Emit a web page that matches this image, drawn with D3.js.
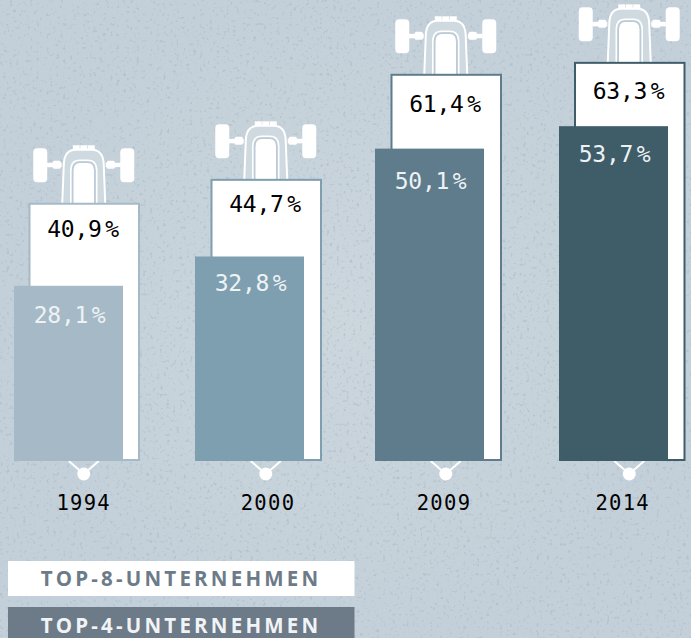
<!DOCTYPE html>
<html>
<head>
<meta charset="utf-8">
<script src="https://cdn.jsdelivr.net/npm/d3@7"></script>
<style>
html, body { margin: 0; padding: 0; background: #c6d1da; overflow: hidden; }
svg { display: block; }
.val { font-family: "DejaVu Sans Mono", monospace; font-size: 23px; letter-spacing: -0.2px; }
.year { font-family: "DejaVu Sans Mono", monospace; font-size: 20.5px; letter-spacing: 1.3px; fill: #000; }
.leg { font-family: "Open Sans", sans-serif; font-weight: 700; font-size: 20.5px; letter-spacing: 3.2px; }
</style>
</head>
<body>
<div id="chart"></div>
<script>
// data
const YEARS = ["1994", "2000", "2009", "2014"];
const TOP8 = [40.9, 44.7, 61.4, 63.3];
const TOP4 = [28.1, 32.8, 50.1, 53.7];
const LEGEND = ["TOP-8-UNTERNEHMEN", "TOP-4-UNTERNEHMEN"];
const COLORS = ["#a5bac6", "#7e9fb0", "#5f7c8c", "#3f5d68"];

// setting up constants
const FRAME_WIDTH = 691;
const FRAME_HEIGHT = 638;
const BASELINE = 461;
const BAR_WIDTH = 109.5;
const WHITE = "#fff";

const FRAME = d3.select("#chart")
    .append("svg")
        .attr("width", FRAME_WIDTH)
        .attr("height", FRAME_HEIGHT);

// speckled paper background
const defs = FRAME.append("defs");
const grad = defs.append("radialGradient").attr("id", "paper");
grad.append("stop").attr("offset", "0%").attr("stop-color", "#cbd6dd");
grad.append("stop").attr("offset", "100%").attr("stop-color", "#c4d0d9");
const speck = defs.append("filter").attr("id", "speck")
    .attr("x", 0).attr("y", 0).attr("width", "100%").attr("height", "100%")
    .attr("color-interpolation-filters", "sRGB");
speck.append("feTurbulence")
    .attr("type", "fractalNoise")
    .attr("baseFrequency", 0.3)
    .attr("numOctaves", 3)
    .attr("seed", 4);
speck.append("feColorMatrix")
    .attr("type", "matrix")
    .attr("values", "0 0 0 0 0.58  0 0 0 0 0.65  0 0 0 0 0.71  6 0 0 0 -3.6");

FRAME.append("rect").attr("width", FRAME_WIDTH).attr("height", FRAME_HEIGHT).attr("fill", "url(#paper)");
FRAME.append("rect").attr("width", FRAME_WIDTH).attr("height", FRAME_HEIGHT)
    .attr("filter", "url(#speck)").attr("opacity", 0.3);

// the bars are not evenly spaced in the source, so ordinal ranges instead of a band
const x8 = d3.scaleOrdinal().domain(YEARS).range([29.5, 211.5, 391.5, 575]);
const x4 = d3.scaleOrdinal().domain(YEARS).range([14, 195, 375, 559]);
const xYear = d3.scaleOrdinal().domain(YEARS).range([83.7, 268, 444, 622.7]);

// the two series sit on very slightly different slopes in the source
const y8 = d3.scaleLinear().domain([0, 70]).range([BASELINE, BASELINE - 70 * 6.29]);
const y4 = d3.scaleLinear().domain([0, 70]).range([BASELINE, BASELINE - 70 * 6.235]);

// label baseline below the top of each bar
const dy8 = d3.scaleOrdinal().domain(YEARS).range([33.5, 32.5, 37, 36]);
const dy4 = d3.scaleOrdinal().domain(YEARS).range([37, 35, 40, 36]);

const rows = YEARS.map((year, i) => ({ year, top8: TOP8[i], top4: TOP4[i], color: COLORS[i] }));
const fmt = v => String(v).replace(".", ",");

const groups = FRAME.selectAll(".year-group")
    .data(rows)
    .enter()
    .append("g")
    .attr("class", "year-group");

// tractor on top of each white bar, drawn around the bar centre
const tractor = groups.append("g")
    .attr("transform", d => "translate(" + (x8(d.year) + BAR_WIDTH / 2 - 0.5) + "," + y8(d.top8) + ")");

[-1, 1].forEach(side => {
    tractor.append("rect").attr("x", side < 0 ? -50.5 : 36.5).attr("y", -55.5)
        .attr("width", 14).attr("height", 34).attr("rx", 4).attr("fill", WHITE);
    tractor.append("rect").attr("x", side < 0 ? -37 : 22).attr("y", -41)
        .attr("width", 15).attr("height", 4.5).attr("fill", WHITE);
    tractor.append("rect").attr("x", side < 0 ? -31 : 23).attr("y", -43)
        .attr("width", 8).attr("height", 8).attr("rx", 1.5).attr("fill", WHITE);
});
[-11, -3.5, 4].forEach(dx => {
    tractor.append("rect").attr("x", dx).attr("y", -58.5)
        .attr("width", 7).attr("height", 6).attr("fill", WHITE);
});
tractor.append("path")
    .attr("d", "M-21.5,0 L-20,-38 Q-20,-54 -8,-54 L8,-54 Q20,-54 20,-38 L21.5,0")
    .attr("fill", "#cfd9e0")
    .attr("stroke", WHITE)
    .attr("stroke-width", 2);
tractor.append("path")
    .attr("d", "M-11,0 L-11,-33 Q-11,-41.5 -4,-41.5 L4,-41.5 Q11,-41.5 11,-33 L11,0")
    .attr("fill", WHITE)
    .attr("stroke", "#bccbd5")
    .attr("stroke-width", 1.5);
tractor.append("path")
    .attr("d", "M-13,0 L-13,-33 Q-13,-43.5 -4,-43.5 L4,-43.5 Q13,-43.5 13,-33 L13,0")
    .attr("fill", "none")
    .attr("stroke", WHITE)
    .attr("stroke-width", 1.5);

// pin under each bar
const pin = groups.append("g")
    .attr("transform", d => "translate(" + (x8(d.year) + BAR_WIDTH / 2 - 0.5) + "," + BASELINE + ")");
pin.append("path")
    .attr("d", "M-15,0 L0,13 L15,0")
    .attr("fill", "none")
    .attr("stroke", WHITE)
    .attr("stroke-width", 2);
pin.append("circle").attr("cy", 13).attr("r", 6.5).attr("fill", WHITE);

// top-8 bars, outlined in the colour of the year
groups.append("rect")
    .attr("x", d => x8(d.year))
    .attr("y", d => y8(d.top8))
    .attr("width", BAR_WIDTH)
    .attr("height", d => BASELINE - y8(d.top8) - 1)
    .attr("fill", WHITE)
    .attr("stroke", d => d.color)
    .attr("stroke-width", 2);

// top-4 bars
groups.append("rect")
    .attr("x", d => x4(d.year))
    .attr("y", d => y4(d.top4))
    .attr("width", 109)
    .attr("height", d => BASELINE - y4(d.top4))
    .attr("fill", d => d.color);

// value labels, the percent sign sits after a small gap
function addValue(sel, xPos, yPos, key, fill) {
    const t = sel.append("text")
        .attr("class", "val")
        .attr("x", xPos)
        .attr("y", yPos)
        .attr("text-anchor", "middle")
        .attr("fill", fill);
    t.append("tspan").text(d => fmt(d[key]));
    t.append("tspan").attr("dx", 3.5).text("%");
}
addValue(groups, d => x8(d.year) + 53.5, d => y8(d.top8) + dy8(d.year), "top8", "#000");
addValue(groups, d => x4(d.year) + 55.5, d => y4(d.top4) + dy4(d.year), "top4", "#eef2f5");

// year labels
groups.append("text")
    .attr("class", "year")
    .attr("x", d => xYear(d.year))
    .attr("y", 510)
    .attr("text-anchor", "middle")
    .text(d => d.year);

// legend
const legendY = d3.scaleOrdinal().domain(LEGEND).range([561, 607]);
const legendH = d3.scaleOrdinal().domain(LEGEND).range([35, 31]);
const legend = FRAME.selectAll(".legend")
    .data(LEGEND)
    .enter()
    .append("g")
    .attr("class", "legend");
legend.append("rect")
    .attr("x", 8)
    .attr("y", d => legendY(d))
    .attr("width", 346.5)
    .attr("height", d => legendH(d))
    .attr("fill", (d, i) => i === 0 ? WHITE : "#6d7a88");
legend.append("text")
    .attr("class", "leg")
    .attr("x", 181)
    .attr("y", (d, i) => i === 0 ? 585.5 : 632.5)
    .attr("text-anchor", "middle")
    .attr("fill", (d, i) => i === 0 ? "#6d7a88" : "#f1f4f6")
    .text(d => d);
</script>
</body>
</html>
